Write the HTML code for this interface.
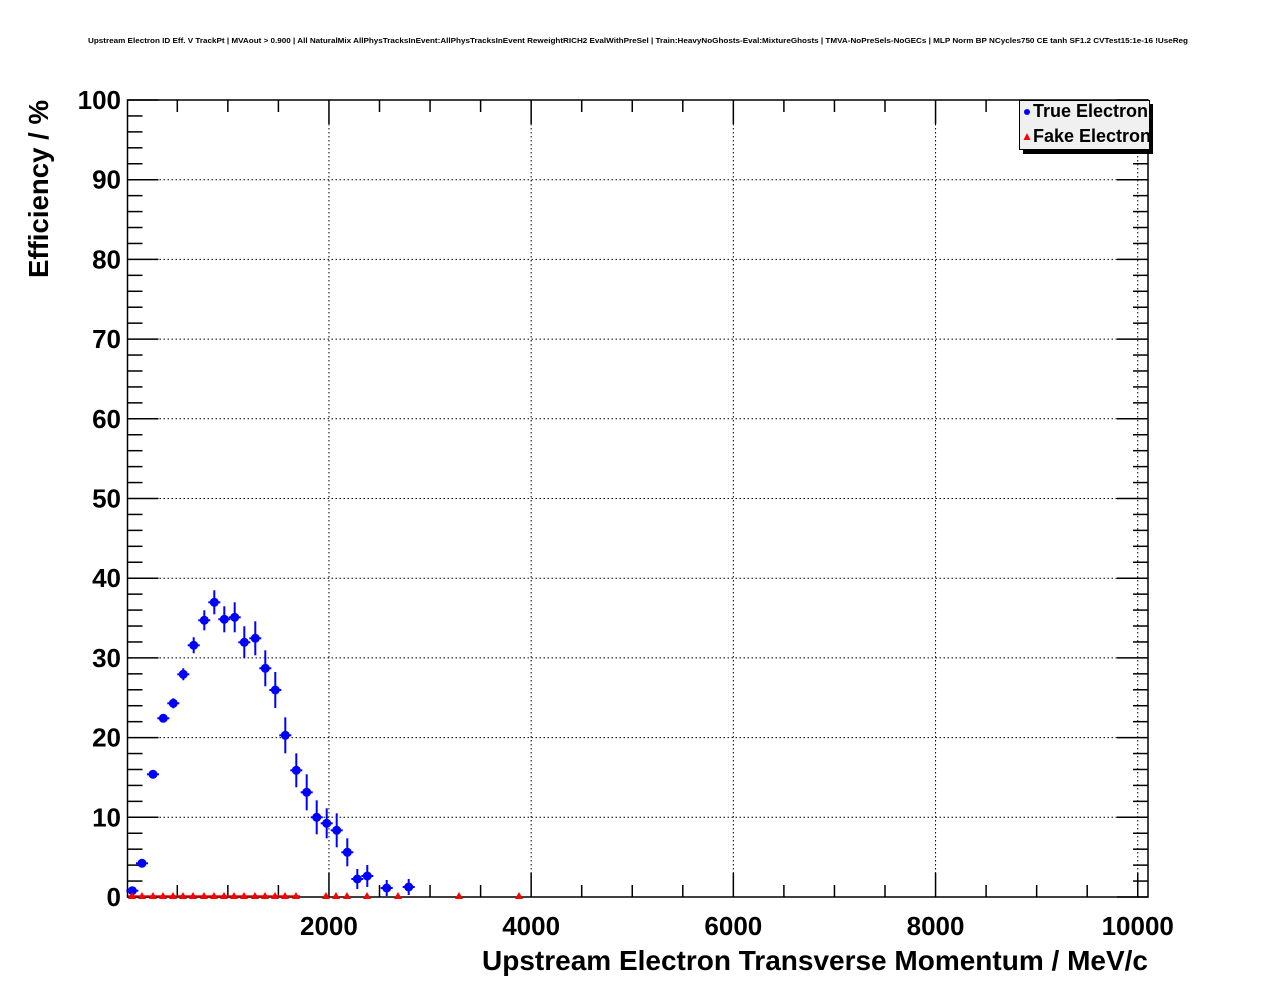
<!DOCTYPE html>
<html><head><meta charset="utf-8"><style>
html,body{margin:0;padding:0;background:#fff;}
svg{display:block;font-family:"Liberation Sans",sans-serif;}
</style></head><body>
<svg id="s" width="1276" height="996" viewBox="0 0 1276 996" xmlns="http://www.w3.org/2000/svg">
<rect width="1276" height="996" fill="#fff"/>
<text x="638" y="43" font-size="7.2" font-weight="bold" text-anchor="middle" textLength="1100" lengthAdjust="spacingAndGlyphs">Upstream Electron ID Eff. V TrackPt | MVAout &gt; 0.900 | All NaturalMix AllPhysTracksInEvent:AllPhysTracksInEvent ReweightRICH2 EvalWithPreSel | Train:HeavyNoGhosts-Eval:MixtureGhosts | TMVA-NoPreSels-NoGECs | MLP Norm BP NCycles750 CE tanh SF1.2 CVTest15:1e-16 !UseReg</text>
<g id="grid" stroke="#000" stroke-width="1" stroke-dasharray="1.5,2.5"></g>
<g id="ticks" stroke="#000" stroke-width="1.5"></g>
<rect x="127.5" y="100" width="1020.5" height="797" fill="none" stroke="#000" stroke-width="1.5"/>
<g id="labels" font-size="26" font-weight="bold"></g>
<text x="1148" y="970" font-size="28" font-weight="bold" text-anchor="end" textLength="666" lengthAdjust="spacingAndGlyphs">Upstream Electron Transverse Momentum / MeV/c</text>
<text transform="translate(48,278) rotate(-90)" font-size="28" font-weight="bold" textLength="178" lengthAdjust="spacingAndGlyphs">Efficiency / %</text>
<g id="data"></g>
<rect x="1023" y="104" width="130" height="50" fill="#000"/>
<rect x="1019.5" y="100.5" width="130" height="49" fill="#f0f0f0" stroke="#000" stroke-width="1"/>
<circle cx="1027" cy="112" r="3" fill="#0000ff"/>
<polygon points="1023.5,140 1030.5,140 1027,133" fill="#ff0000"/>
<text x="1033" y="117" font-size="18" font-weight="bold">True Electron</text>
<text x="1033" y="142" font-size="18" font-weight="bold">Fake Electron</text>
</svg>
<script>
const NS="http://www.w3.org/2000/svg";
function el(p,t,a,txt){const e=document.createElementNS(NS,t);for(const k in a)e.setAttribute(k,a[k]);if(txt!==undefined)e.textContent=txt;document.getElementById(p).appendChild(e);return e;}
const X=v=>126.75+v*0.1011, Y=v=>897-v*7.97;
for(let v=2000;v<=10000;v+=2000)el('grid','line',{x1:X(v),x2:X(v),y1:100,y2:897});
for(let v=10;v<=100;v+=10)el('grid','line',{x1:127.5,x2:1148,y1:Y(v),y2:Y(v)});
for(let v=500;v<=10000;v+=500){const maj=v%2000==0;const L=maj?24:12;const x=X(v);
 el('ticks','line',{x1:x,x2:x,y1:897,y2:897-L});el('ticks','line',{x1:x,x2:x,y1:100,y2:100+L});
 if(maj)el('labels','text',{x:x,y:935,'text-anchor':'middle'},String(v));}
for(let v=0;v<=100;v+=2){const maj=v%10==0;const L=maj?31:15;const y=Y(v);
 el('ticks','line',{x1:127.5,x2:127.5+L,y1:y,y2:y});el('ticks','line',{x1:1148,x2:1148-L,y1:y,y2:y});
 if(maj)el('labels','text',{x:121,y:y+9,'text-anchor':'end'},String(v));}
const pts=[[132.3,890.7,2],[142,863.3,2],[153,774.3,2],[163.3,718.3,3],[173.3,703.3,5],[183.3,674.3,6],[193.7,645.3,8],[204.3,620.3,10],[214.3,602.3,12],[224.3,619.3,13],[234.7,617.3,15],[244.3,642.3,16],[255.3,638.3,17],[265.3,668.3,18],[275.3,690,18],[285.3,735.3,18],[296.3,770.3,17],[306.7,792.3,18],[316.7,817.3,17],[326.7,823.3,15],[336.7,830.3,17],[347.3,852.3,14],[357.3,879,10],[367.3,876,11],[386.7,888,8],[408.7,887,8]];
for(const[x,y,e]of pts){el('data','line',{x1:x,x2:x,y1:y-e,y2:Math.min(y+e,897),stroke:'#0000ff','stroke-width':2});
 el('data','line',{x1:x-6,x2:x+6,y1:y,y2:y,stroke:'#0000ff','stroke-width':2});
 el('data','circle',{cx:x,cy:y,r:4.5,fill:'#0000ff'});}
const rx=[132,142,153,163,173,183,193,204,214,224,234,244,255,265,275,285,296,326,336,347,367,398,459,519];
el('data','line',{x1:128,x2:300,y1:896,y2:896,stroke:'#ff0000','stroke-width':1.5});
for(const x of rx)el('data','polygon',{points:`${x-4},899 ${x+4},899 ${x},892`,fill:'#ff0000'});
</script>
</body></html>
